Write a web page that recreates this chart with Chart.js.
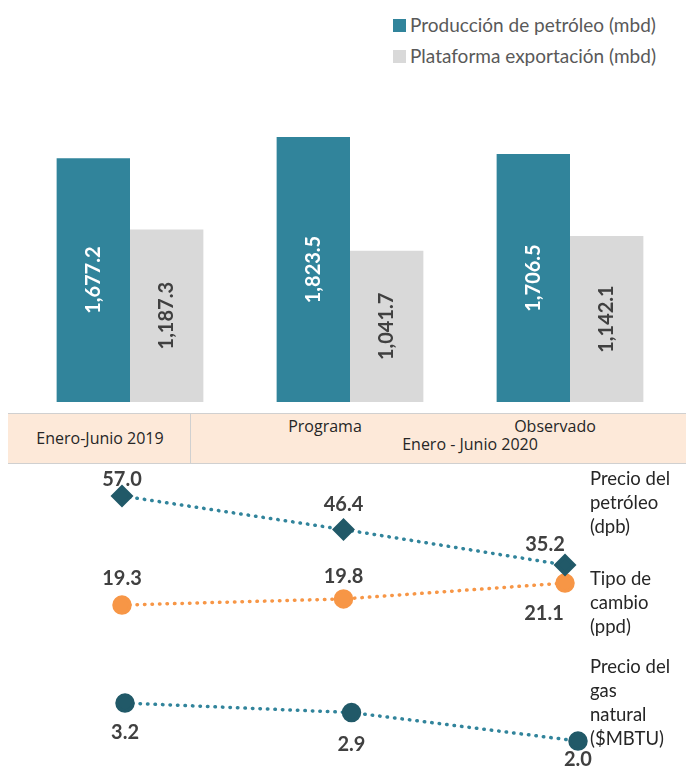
<!DOCTYPE html>
<html>
<head>
<meta charset="utf-8">
<script src="https://cdn.jsdelivr.net/npm/chart.js@4.4.0/dist/chart.umd.min.js"></script>
<style>
  body { margin: 0; background: #fff; font-family: 'Lato', sans-serif; font-weight: 400; }
  #wrap { position: relative; width: 686px; height: 767px; overflow: hidden; }
  .box { position: absolute; }
  .legend { position: absolute; left: 393px; font-size: 19px; color: #595959; white-space: nowrap; }
  .legend i { display: inline-block; width: 13px; height: 13px; margin-right: 4px; vertical-align: 0px; }
  #band { position: absolute; left: 8px; top: 413px; width: 678px; height: 49px; background: #FDE9D9;
          border-top: 1px solid #D0D0D0; border-bottom: 1px solid #D0D0D0; color: #262626;
          font-family: 'Open Sans', sans-serif; font-size: 16px; font-weight: 400; }
  #band div { position: absolute; white-space: nowrap; width: 200px; text-align: center; }
  .side { position: absolute; left: 590px; font-size: 18.5px; line-height: 24px; color: #262626; }
</style>
</head>
<body>
<div id="wrap">
  <div class="legend" style="top:13px"><i style="background:#31849B"></i>Producción de petróleo (mbd)</div>
  <div class="legend" style="top:44px"><i style="background:#D9D9D9"></i>Plataforma exportación (mbd)</div>

  <div class="box" style="left:0;top:0;width:686px;height:402px"><canvas id="bars"></canvas></div>

  <div id="band">
    <div style="left:-8px;top:13px">Enero-Junio 2019</div>
    <div style="left:182px;top:0;width:1px;height:49px;background:#D0D0D0"></div>
    <div style="left:217px;top:1px">Programa</div>
    <div style="left:447px;top:1px">Observado</div>
    <div style="left:362px;top:19px">Enero - Junio 2020</div>
  </div>

  <div class="box" style="left:0;top:470px;width:686px;height:297px"><canvas id="lines"></canvas></div>

  <div class="side" style="top:466px">Precio del<br>petróleo<br>(dpb)</div>
  <div class="side" style="top:566px">Tipo de<br>cambio<br>(ppd)</div>
  <div class="side" style="top:654px">Precio del<br>gas<br>natural<br>($MBTU)</div>
</div>

<script>
  // Data
  const periods     = ['Enero-Junio 2019', 'Programa', 'Observado'];
  const produccion  = [1677.2, 1823.5, 1706.5];
  const exportacion = [1187.3, 1041.7, 1142.1];
  const precioPetroleo = [57.0, 46.4, 35.2];
  const tipoCambio     = [19.3, 19.8, 21.1];
  const precioGas      = [3.2, 2.9, 2.0];

  // Palette
  const TEAL   = '#31849B';
  const TEAL_D = '#215968';
  const GREY   = '#D9D9D9';
  const ORANGE = '#F79646';
  const LABEL  = '#404040';

  const fmt = v => v.toLocaleString('en-US', { minimumFractionDigits: 1, maximumFractionDigits: 1 });
  const asXY = arr => arr.map((v, i) => ({ x: i, y: v }));

  // rotated labels in the middle of each bar
  const barLabels = {
    id: 'barLabels',
    afterDatasetsDraw(chart) {
      const ctx = chart.ctx;
      chart.data.datasets.forEach((ds, i) => {
        chart.getDatasetMeta(i).data.forEach((bar, j) => {
          ctx.save();
          ctx.translate(bar.x, (bar.y + bar.base) / 2);
          ctx.rotate(-Math.PI / 2);
          ctx.font = 'bold 20px Lato';
          ctx.fillStyle = ds.labelColor;
          ctx.textAlign = 'center';
          ctx.textBaseline = 'middle';
          ctx.fillText(fmt(ds.data[j]), 0, 0);
          ctx.restore();
        });
      });
    }
  };

  // value labels next to each point, offsets per point
  const pointLabels = {
    id: 'pointLabels',
    afterDatasetsDraw(chart) {
      const ctx = chart.ctx;
      chart.data.datasets.forEach((ds, i) => {
        chart.getDatasetMeta(i).data.forEach((pt, j) => {
          const [dx, dy] = ds.labelOffsets[j];
          ctx.save();
          ctx.font = 'bold 20px Lato';
          ctx.fillStyle = LABEL;
          ctx.textAlign = 'center';
          ctx.textBaseline = 'middle';
          ctx.fillText(fmt(ds.data[j].y), pt.x + dx, pt.y + dy);
          ctx.restore();
        });
      });
    }
  };

  new Chart(document.getElementById('bars'), {
    type: 'bar',
    data: {
      labels: periods,
      datasets: [
        { label: 'Producción de petróleo (mbd)', data: produccion, backgroundColor: TEAL,
          labelColor: '#FFFFFF', categoryPercentage: 0.667, barPercentage: 1 },
        { label: 'Plataforma exportación (mbd)', data: exportacion, backgroundColor: GREY,
          labelColor: LABEL, categoryPercentage: 0.667, barPercentage: 1 },
      ],
    },
    options: {
      responsive: true,
      maintainAspectRatio: false,
      animation: false,
      layout: { autoPadding: false, padding: { top: 80, left: 20, right: 6, bottom: 0 } },
      plugins: { legend: { display: false }, tooltip: { enabled: false } },
      scales: {
        x: { display: false },
        y: { display: false, min: 0, max: 2216 },
      },
    },
    plugins: [barLabels],
  });

  const dotted = { borderWidth: 3.5, borderDash: [0.5, 7], borderCapStyle: 'round' };

  new Chart(document.getElementById('lines'), {
    type: 'line',
    data: {
      datasets: [
        { label: 'Precio del petróleo (dpb)', data: asXY(precioPetroleo), xAxisID: 'x', yAxisID: 'yOil',
          borderColor: TEAL, ...dotted,
          pointStyle: 'rectRot', pointRadius: 9, pointBackgroundColor: TEAL_D, pointBorderColor: TEAL_D,
          labelOffsets: [[0, -16], [0, -25], [-20, -20]] },
        { label: 'Tipo de cambio (ppd)', data: asXY(tipoCambio), xAxisID: 'x', yAxisID: 'yFx',
          borderColor: ORANGE, ...dotted,
          pointStyle: 'circle', pointRadius: 8, pointBackgroundColor: ORANGE, pointBorderColor: ORANGE,
          labelOffsets: [[0, -27], [0, -22], [-21, 30]] },
        { label: 'Precio del gas natural ($MBTU)', data: asXY(precioGas), xAxisID: 'xGas', yAxisID: 'yGas',
          borderColor: TEAL, ...dotted,
          pointStyle: 'circle', pointRadius: 8, pointBackgroundColor: TEAL_D, pointBorderColor: TEAL_D,
          labelOffsets: [[0, 30], [0, 32], [0, 19]] },
      ],
    },
    options: {
      responsive: true,
      maintainAspectRatio: false,
      animation: false,
      clip: false,
      layout: { autoPadding: false, padding: { left: 100, right: 90, top: 0, bottom: 0 } },
      plugins: { legend: { display: false }, tooltip: { enabled: false } },
      scales: {
        x:    { type: 'linear', display: false, min: -0.0993, max: 2.1399 },
        xGas: { type: 'linear', display: false, min: -0.1104, max: 2.0795 },
        yOil: { display: false, min: -28.6, max: 65.2 },
        yFx:  { display: false, min: 6.05, max: 30.35 },
        yGas: { display: false, min: 1.18, max: 10.56 },
      },
    },
    plugins: [pointLabels],
  });
</script>
</body>
</html>
